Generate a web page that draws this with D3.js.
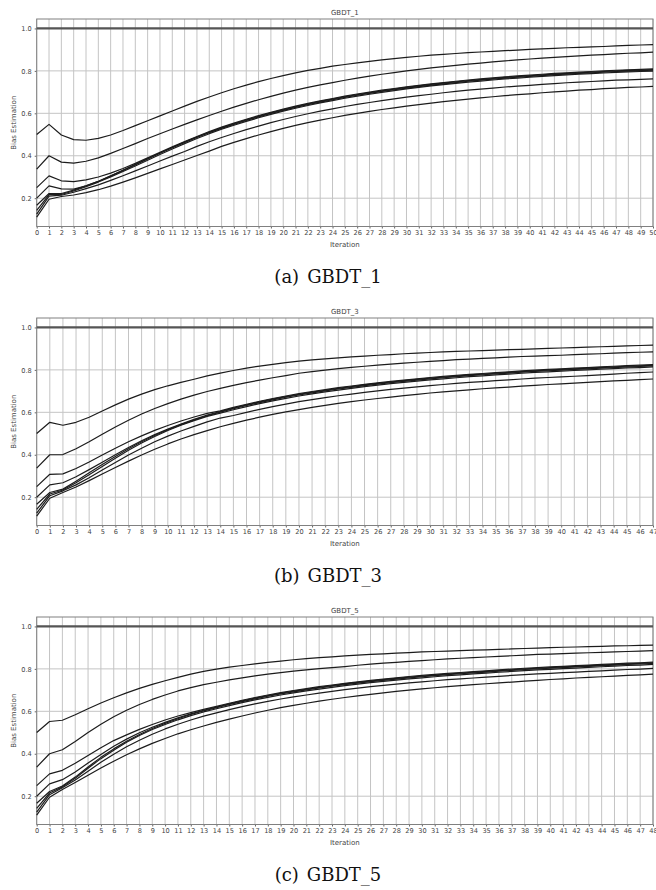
<!DOCTYPE html>
<html>
<head>
<meta charset="utf-8">
<script src="https://cdn.jsdelivr.net/npm/d3@7"></script>
<style>
  body { margin: 0; background: #fff; }
  svg { display: block; }
</style>
</head>
<body>
<svg id="chart" width="656" height="890"></svg>
<script>
// ---- Bias estimation per iteration, one series per prior level (1/2 ... 1/9) ----

// GBDT_1 : iterations 0..50
const g1_p2 = [0.500,0.548,0.498,0.476,0.473,0.482,0.498,0.519,0.542,0.565,0.588,0.611,0.634,0.656,0.677,0.697,0.716,0.733,0.749,0.764,0.778,0.791,0.802,0.812,0.822,0.830,0.838,0.845,0.852,0.858,0.864,0.869,0.874,0.878,0.882,0.886,0.889,0.892,0.895,0.898,0.901,0.904,0.906,0.909,0.911,0.913,0.915,0.918,0.920,0.922,0.924];
const g1_p3 = [0.337,0.400,0.370,0.365,0.374,0.390,0.411,0.434,0.457,0.481,0.504,0.526,0.548,0.569,0.590,0.610,0.629,0.647,0.664,0.680,0.695,0.709,0.722,0.734,0.745,0.756,0.766,0.775,0.784,0.792,0.800,0.807,0.814,0.820,0.826,0.832,0.837,0.842,0.847,0.852,0.856,0.860,0.864,0.867,0.871,0.874,0.877,0.880,0.883,0.885,0.888];
const g1_p4 = [0.250,0.305,0.282,0.278,0.286,0.300,0.318,0.340,0.364,0.390,0.416,0.442,0.467,0.491,0.514,0.535,0.554,0.572,0.589,0.605,0.620,0.634,0.647,0.659,0.670,0.681,0.691,0.700,0.709,0.717,0.725,0.732,0.739,0.745,0.751,0.757,0.762,0.767,0.772,0.776,0.780,0.784,0.788,0.791,0.794,0.797,0.800,0.803,0.805,0.807,0.809];
const g1_p5 = [0.200,0.258,0.244,0.243,0.258,0.279,0.304,0.331,0.358,0.386,0.413,0.439,0.464,0.488,0.511,0.532,0.551,0.569,0.586,0.602,0.617,0.631,0.644,0.656,0.667,0.678,0.688,0.697,0.706,0.714,0.722,0.729,0.736,0.742,0.748,0.754,0.759,0.764,0.769,0.773,0.777,0.781,0.785,0.788,0.791,0.794,0.797,0.800,0.802,0.804,0.806];
const g1_p6 = [0.167,0.222,0.222,0.238,0.258,0.280,0.305,0.331,0.358,0.385,0.412,0.438,0.463,0.487,0.509,0.529,0.548,0.566,0.583,0.599,0.614,0.628,0.641,0.653,0.664,0.675,0.685,0.694,0.703,0.711,0.719,0.726,0.733,0.739,0.745,0.751,0.756,0.761,0.766,0.770,0.774,0.778,0.782,0.785,0.788,0.791,0.794,0.797,0.799,0.801,0.803];
const g1_p7 = [0.143,0.217,0.218,0.234,0.254,0.276,0.300,0.326,0.352,0.379,0.406,0.432,0.457,0.481,0.504,0.525,0.544,0.562,0.579,0.595,0.610,0.624,0.637,0.649,0.660,0.671,0.681,0.690,0.699,0.707,0.715,0.722,0.729,0.735,0.741,0.747,0.752,0.757,0.762,0.766,0.770,0.774,0.778,0.781,0.784,0.787,0.790,0.793,0.795,0.797,0.799];
const g1_p8 = [0.125,0.210,0.214,0.228,0.245,0.263,0.284,0.306,0.329,0.352,0.375,0.398,0.420,0.444,0.466,0.486,0.505,0.523,0.540,0.556,0.571,0.585,0.598,0.610,0.621,0.632,0.642,0.651,0.660,0.668,0.676,0.683,0.690,0.697,0.703,0.709,0.714,0.719,0.724,0.728,0.732,0.736,0.740,0.744,0.747,0.750,0.753,0.756,0.758,0.760,0.762];
const g1_p9 = [0.111,0.195,0.208,0.215,0.226,0.240,0.257,0.276,0.296,0.317,0.338,0.359,0.380,0.401,0.422,0.444,0.463,0.481,0.498,0.514,0.529,0.543,0.556,0.568,0.579,0.590,0.600,0.609,0.618,0.626,0.634,0.641,0.648,0.655,0.661,0.667,0.673,0.678,0.683,0.688,0.692,0.697,0.701,0.705,0.709,0.712,0.716,0.719,0.722,0.724,0.727];

// GBDT_3 : iterations 0..47
const g3_p2 = [0.500,0.553,0.539,0.553,0.577,0.606,0.635,0.662,0.686,0.707,0.725,0.741,0.756,0.772,0.785,0.797,0.808,0.818,0.826,0.834,0.841,0.847,0.852,0.857,0.861,0.865,0.869,0.872,0.876,0.879,0.882,0.885,0.887,0.889,0.891,0.893,0.895,0.897,0.899,0.901,0.903,0.905,0.907,0.909,0.911,0.913,0.915,0.917];
const g3_p3 = [0.337,0.400,0.401,0.428,0.461,0.497,0.531,0.563,0.592,0.618,0.641,0.662,0.681,0.698,0.713,0.727,0.740,0.752,0.763,0.773,0.784,0.792,0.799,0.806,0.812,0.817,0.822,0.827,0.832,0.836,0.840,0.844,0.848,0.851,0.854,0.857,0.860,0.863,0.865,0.867,0.869,0.872,0.874,0.876,0.879,0.881,0.883,0.885];
const g3_p4 = [0.250,0.308,0.310,0.335,0.366,0.399,0.431,0.461,0.489,0.515,0.538,0.559,0.578,0.595,0.607,0.623,0.638,0.652,0.665,0.677,0.688,0.698,0.707,0.716,0.724,0.732,0.739,0.746,0.752,0.758,0.764,0.769,0.774,0.779,0.783,0.787,0.791,0.795,0.799,0.802,0.805,0.808,0.811,0.814,0.817,0.820,0.822,0.825];
const g3_p5 = [0.200,0.258,0.268,0.296,0.330,0.365,0.400,0.434,0.466,0.495,0.521,0.545,0.567,0.587,0.604,0.620,0.635,0.649,0.662,0.674,0.685,0.695,0.704,0.713,0.721,0.729,0.736,0.743,0.749,0.755,0.761,0.766,0.771,0.776,0.780,0.784,0.788,0.792,0.796,0.799,0.802,0.805,0.808,0.811,0.814,0.817,0.819,0.822];
const g3_p6 = [0.167,0.222,0.238,0.275,0.315,0.354,0.392,0.428,0.461,0.491,0.518,0.542,0.564,0.584,0.601,0.617,0.632,0.646,0.659,0.671,0.682,0.692,0.701,0.710,0.718,0.726,0.733,0.740,0.746,0.752,0.758,0.763,0.768,0.773,0.777,0.781,0.785,0.789,0.793,0.796,0.799,0.802,0.805,0.808,0.811,0.814,0.816,0.819];
const g3_p7 = [0.143,0.215,0.234,0.268,0.306,0.345,0.384,0.421,0.455,0.486,0.514,0.539,0.561,0.581,0.596,0.612,0.627,0.641,0.654,0.666,0.677,0.687,0.696,0.705,0.713,0.721,0.728,0.735,0.741,0.747,0.753,0.758,0.763,0.768,0.772,0.776,0.780,0.784,0.788,0.791,0.794,0.797,0.800,0.803,0.806,0.809,0.811,0.814];
const g3_p8 = [0.125,0.207,0.230,0.258,0.292,0.328,0.364,0.399,0.431,0.461,0.488,0.512,0.534,0.555,0.573,0.585,0.600,0.614,0.627,0.639,0.650,0.660,0.669,0.678,0.686,0.694,0.701,0.708,0.714,0.720,0.726,0.731,0.736,0.741,0.745,0.749,0.753,0.757,0.761,0.764,0.767,0.770,0.773,0.776,0.780,0.784,0.787,0.790];
const g3_p9 = [0.111,0.195,0.222,0.248,0.278,0.309,0.340,0.370,0.399,0.426,0.451,0.474,0.495,0.514,0.532,0.548,0.563,0.577,0.590,0.602,0.613,0.623,0.633,0.642,0.650,0.658,0.665,0.672,0.679,0.685,0.691,0.696,0.701,0.706,0.711,0.715,0.719,0.723,0.727,0.731,0.734,0.738,0.741,0.745,0.748,0.751,0.754,0.757];

// GBDT_5 : iterations 0..48
const g5_p2 = [0.500,0.552,0.558,0.584,0.612,0.639,0.664,0.687,0.708,0.727,0.744,0.760,0.775,0.788,0.799,0.808,0.816,0.824,0.831,0.837,0.843,0.848,0.853,0.857,0.861,0.865,0.868,0.871,0.874,0.877,0.880,0.882,0.884,0.886,0.888,0.890,0.892,0.894,0.896,0.898,0.900,0.902,0.903,0.905,0.906,0.908,0.909,0.911,0.912];
const g5_p3 = [0.337,0.400,0.419,0.458,0.500,0.539,0.574,0.605,0.632,0.656,0.677,0.696,0.712,0.726,0.737,0.748,0.758,0.767,0.775,0.782,0.789,0.795,0.801,0.806,0.811,0.817,0.822,0.827,0.831,0.835,0.839,0.843,0.847,0.850,0.853,0.856,0.859,0.862,0.865,0.868,0.870,0.872,0.874,0.876,0.878,0.880,0.882,0.884,0.886];
const g5_p4 = [0.250,0.305,0.322,0.355,0.392,0.428,0.462,0.489,0.515,0.538,0.559,0.578,0.594,0.609,0.623,0.638,0.652,0.665,0.677,0.688,0.698,0.707,0.716,0.724,0.732,0.739,0.746,0.752,0.758,0.764,0.769,0.774,0.779,0.783,0.787,0.791,0.795,0.799,0.803,0.806,0.809,0.812,0.815,0.818,0.821,0.824,0.827,0.829,0.832];
const g5_p5 = [0.200,0.258,0.278,0.314,0.356,0.397,0.435,0.469,0.499,0.525,0.548,0.569,0.588,0.605,0.620,0.635,0.649,0.662,0.674,0.685,0.695,0.704,0.713,0.721,0.729,0.736,0.743,0.749,0.755,0.761,0.766,0.771,0.776,0.780,0.784,0.788,0.792,0.796,0.800,0.803,0.806,0.809,0.812,0.815,0.818,0.821,0.824,0.826,0.829];
const g5_p6 = [0.167,0.222,0.248,0.290,0.338,0.383,0.423,0.459,0.491,0.519,0.543,0.565,0.585,0.602,0.617,0.632,0.646,0.659,0.671,0.682,0.692,0.701,0.710,0.718,0.726,0.733,0.740,0.746,0.752,0.758,0.763,0.768,0.773,0.777,0.781,0.785,0.789,0.793,0.797,0.800,0.803,0.806,0.809,0.812,0.815,0.818,0.821,0.823,0.826];
const g5_p7 = [0.143,0.215,0.244,0.285,0.332,0.377,0.417,0.454,0.486,0.514,0.538,0.560,0.580,0.597,0.612,0.627,0.641,0.654,0.666,0.677,0.687,0.696,0.705,0.713,0.721,0.728,0.735,0.741,0.747,0.753,0.758,0.763,0.768,0.772,0.776,0.780,0.784,0.788,0.792,0.795,0.798,0.801,0.804,0.807,0.810,0.813,0.816,0.818,0.821];
const g5_p8 = [0.125,0.207,0.240,0.276,0.318,0.360,0.398,0.433,0.464,0.492,0.517,0.539,0.559,0.577,0.593,0.608,0.622,0.635,0.647,0.658,0.668,0.677,0.686,0.694,0.702,0.709,0.716,0.722,0.728,0.734,0.739,0.744,0.749,0.753,0.757,0.761,0.765,0.769,0.773,0.776,0.779,0.782,0.785,0.788,0.791,0.794,0.797,0.799,0.802];
const g5_p9 = [0.111,0.195,0.232,0.265,0.299,0.333,0.365,0.395,0.423,0.449,0.472,0.494,0.513,0.531,0.548,0.563,0.578,0.592,0.605,0.617,0.628,0.638,0.648,0.657,0.665,0.673,0.680,0.687,0.694,0.700,0.706,0.711,0.716,0.721,0.726,0.730,0.734,0.738,0.742,0.746,0.750,0.753,0.757,0.760,0.763,0.766,0.769,0.772,0.775];

// Upper bound drawn as a reference level in every panel
const referenceLevel = 1.0;

const panelTitles = ["GBDT_1", "GBDT_3", "GBDT_5"];
const panelTags = ["(a)", "(b)", "(c)"];
const panelMaxIter = [50, 47, 48];
const yTickValues = [0.2, 0.4, 0.6, 0.8, 1.0];
const yLabel = "Bias Estimation";
const xLabel = "Iteration";

const panelSeries = [
  [g1_p2, g1_p3, g1_p4, g1_p5, g1_p6, g1_p7, g1_p8, g1_p9],
  [g3_p2, g3_p3, g3_p4, g3_p5, g3_p6, g3_p7, g3_p8, g3_p9],
  [g5_p2, g5_p3, g5_p4, g5_p5, g5_p6, g5_p7, g5_p8, g5_p9]
];

// ---- layout ----
const svg = d3.select("#chart");
const plotLeft = 36.7, plotRight = 653;
const panelTops = [19, 318, 617];
const plotHeight = 207.5;
const yDomain = [0.0666, 1.0445];
const tickFont = "DejaVu Sans, sans-serif";

panelTitles.forEach((title, p) => {
  const top = panelTops[p];
  const bottom = top + plotHeight;
  const maxIter = panelMaxIter[p];
  const xTicks = d3.range(0, maxIter + 1);

  const x = d3.scaleLinear().domain([0, maxIter]).range([plotLeft, plotRight]);
  const y = d3.scaleLinear().domain(yDomain).range([bottom, top]);

  const g = svg.append("g");

  // grid
  g.append("g").selectAll("line").data(xTicks).join("line")
    .attr("x1", d => x(d)).attr("x2", d => x(d))
    .attr("y1", top).attr("y2", bottom)
    .attr("stroke", "#c4c4c4").attr("stroke-width", 1);
  g.append("g").selectAll("line").data(yTickValues).join("line")
    .attr("x1", plotLeft).attr("x2", plotRight)
    .attr("y1", d => y(d)).attr("y2", d => y(d))
    .attr("stroke", "#c4c4c4").attr("stroke-width", 1);

  // axes
  const xAxis = g.append("g")
    .attr("transform", `translate(0,${bottom})`)
    .call(d3.axisBottom(x).tickValues(xTicks).tickSize(2).tickPadding(2).tickFormat(d3.format("d")));
  const yAxis = g.append("g")
    .attr("transform", `translate(${plotLeft},0)`)
    .call(d3.axisLeft(y).tickValues(yTickValues).tickSize(2).tickPadding(3).tickFormat(d3.format(".1f")));
  [xAxis, yAxis].forEach(a => {
    a.select(".domain").remove();
    a.selectAll(".tick line").attr("stroke", "#666");
    a.selectAll(".tick text").attr("fill", "#444")
      .style("font-family", tickFont).style("font-size", "6.6px");
  });

  // frame
  g.append("rect")
    .attr("x", plotLeft).attr("y", top)
    .attr("width", plotRight - plotLeft).attr("height", plotHeight)
    .attr("fill", "none").attr("stroke", "#808080").attr("stroke-width", 1);

  // reference level
  g.append("line")
    .attr("x1", x(0)).attr("x2", x(maxIter))
    .attr("y1", y(referenceLevel)).attr("y2", y(referenceLevel))
    .attr("stroke", "#555").attr("stroke-width", 2.2);

  // series
  const line = d3.line().x((d, i) => x(i)).y(d => y(d));
  g.append("g").selectAll("path").data(panelSeries[p]).join("path")
    .attr("d", line)
    .attr("fill", "none")
    .attr("stroke", "#1c1c1c")
    .attr("stroke-width", 1.2)
    .attr("stroke-linejoin", "round");

  // labels
  g.append("text")
    .attr("x", (plotLeft + plotRight) / 2).attr("y", top - 4.5)
    .attr("text-anchor", "middle")
    .attr("fill", "#444")
    .style("font-family", tickFont).style("font-size", "7px")
    .text(title);
  g.append("text")
    .attr("x", (plotLeft + plotRight) / 2).attr("y", bottom + 20.5)
    .attr("text-anchor", "middle")
    .attr("fill", "#444")
    .style("font-family", tickFont).style("font-size", "7px")
    .text(xLabel);
  g.append("text")
    .attr("transform", `translate(15.5,${(top + bottom) / 2}) rotate(-90)`)
    .attr("text-anchor", "middle")
    .attr("fill", "#444")
    .style("font-family", tickFont).style("font-size", "7px")
    .text(yLabel);

  // caption: tag and panel name, separated by a wider gap
  const cap = g.append("text")
    .attr("x", 328).attr("y", bottom + 56)
    .attr("text-anchor", "middle")
    .attr("fill", "#111")
    .style("font-family", "DejaVu Serif, serif")
    .style("font-size", "18px");
  cap.append("tspan").text(panelTags[p]);
  cap.append("tspan").attr("dx", 8).text(title);
});
</script>
</body>
</html>
